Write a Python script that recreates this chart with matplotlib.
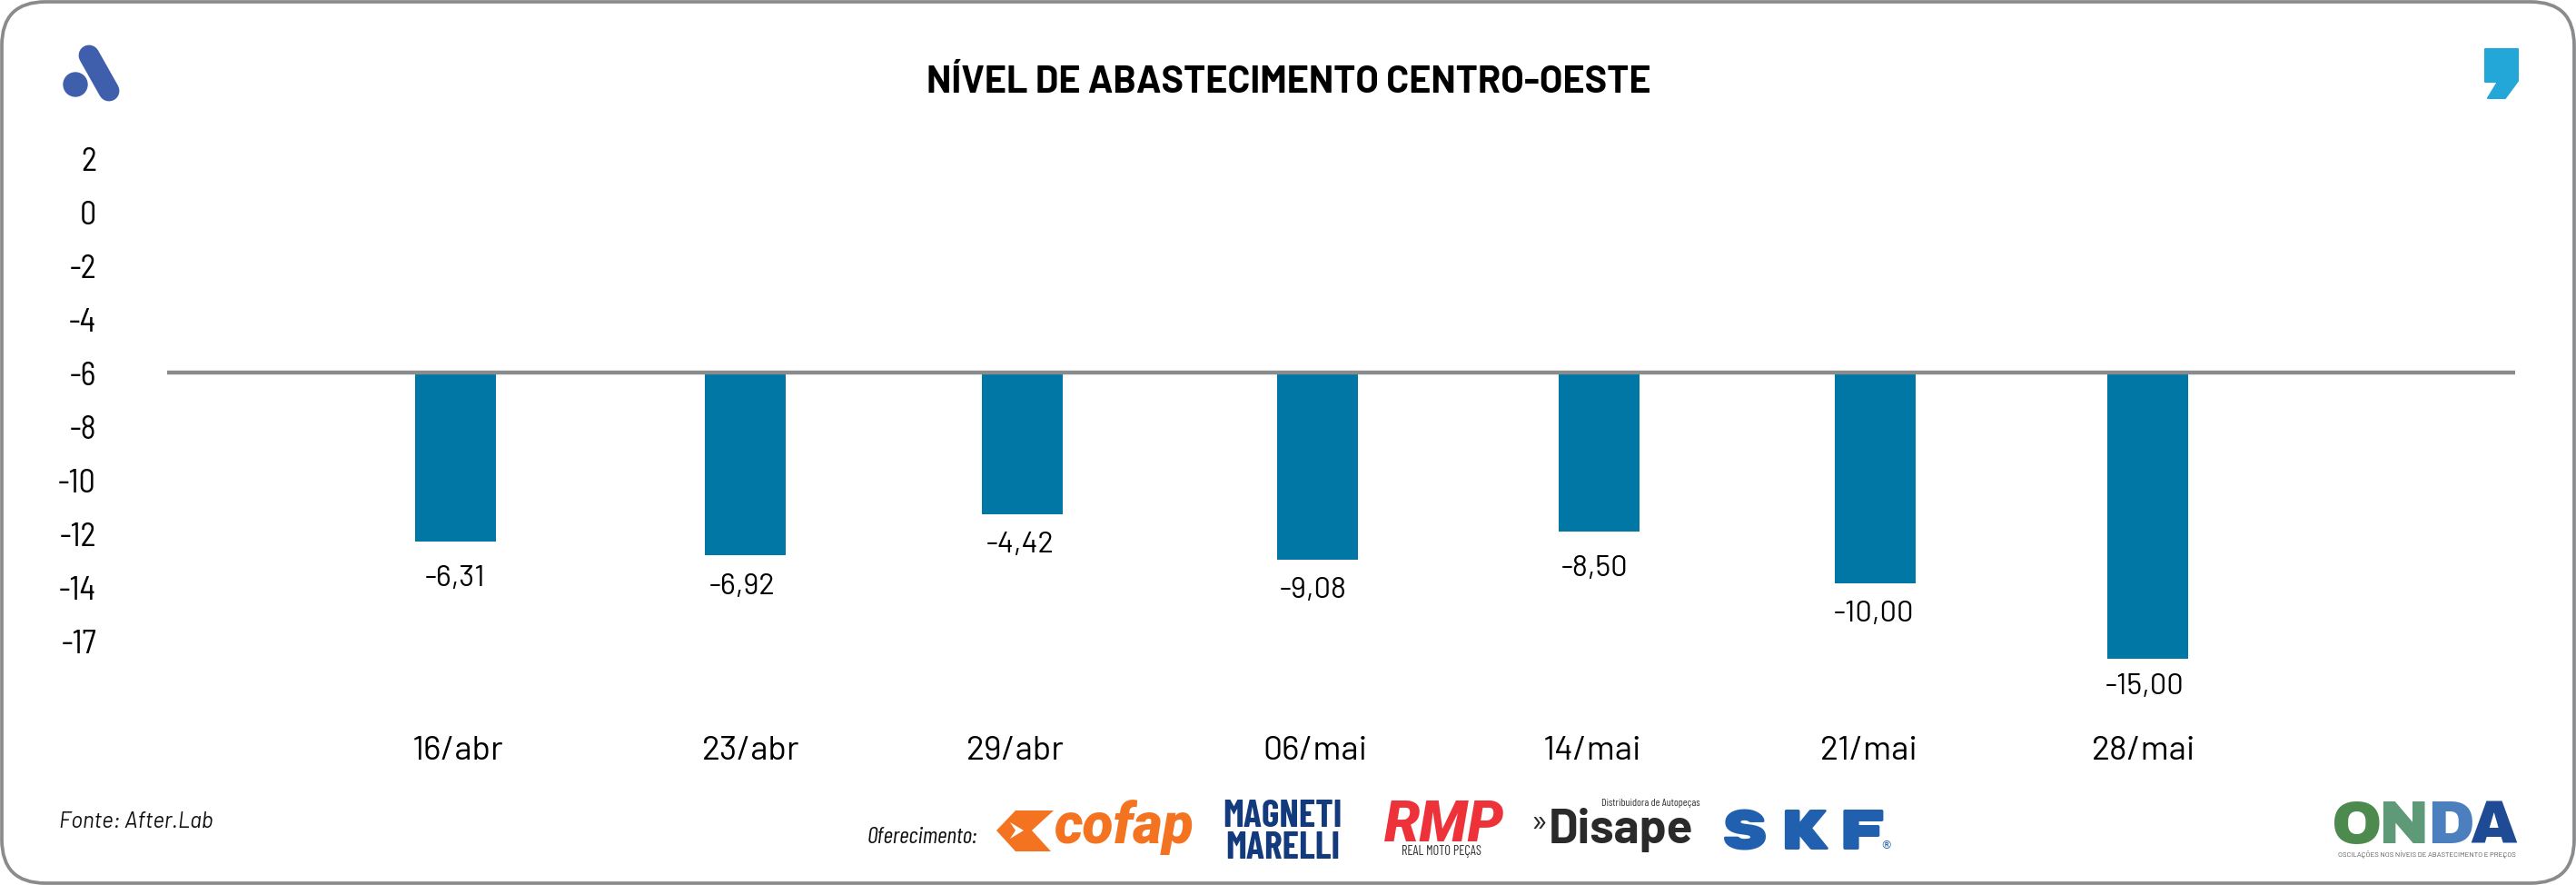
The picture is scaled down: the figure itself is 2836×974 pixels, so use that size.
import matplotlib
matplotlib.use("Agg")
import matplotlib.pyplot as plt
from matplotlib.patches import FancyBboxPatch, Polygon, Circle
from matplotlib.lines import Line2D

# =========================================================
# DATA
# =========================================================

dates = ["16/abr", "23/abr", "29/abr", "06/mai", "14/mai", "21/mai", "28/mai"]
value_labels = ["-6,31", "-6,92", "-4,42", "-9,08", "-8,50", "-10,00", "-15,00"]

# the bars don't follow their labels, so these are the ends as read on the axis
bar_ends = [-12.27, -12.77, -11.25, -12.95, -11.90, -13.84, -16.64]
bar_x = [501, 820.7, 1125, 1450.5, 1760.5, 2064.5, 2364.5]
baseline = -5.95

y_ticks = [2, 0, -2, -4, -6, -8, -10, -12, -14, -16]
y_tick_labels = ["2", "0", "-2", "-4", "-6", "-8", "-10", "-12", "-14", "-17"]

# layout: label nudges in pixels, the originals are placed by hand
value_dx = [0, -4, -2, -5, -5, -2, -3]
value_dy = [49, 43, 42, 42, 49, 42, 39]
date_dx = [3, 6, -7, -3, -7, -7, -4]

# =========================================================
# STYLE
# =========================================================

W, H = 2836, 974
BAR_COLOR = "#0077A5"
LINE_COLOR = "#8A8B8D"
TEXT_FONT = ["Barlow", "Roboto", "DejaVu Sans"]
TICK_FONT = ["Barlow Semi Condensed", "Barlow", "Roboto", "DejaVu Sans"]
HEAVY_FONT = ["Archivo Black", "Roboto", "DejaVu Sans"]
NARROW_FONT = ["Barlow Condensed", "Barlow", "Roboto", "DejaVu Sans"]
WIDE_FONT = ["Rubik Mono One", "Archivo Black", "Roboto", "DejaVu Sans"]

plt.rcParams["font.family"] = TEXT_FONT

fig = plt.figure(figsize=(W / 100, H / 100), dpi=100)

# overlay in pixel coordinates, y going down
bg = fig.add_axes([0, 0, 1, 1])
bg.set_xlim(0, W)
bg.set_ylim(H, 0)
bg.axis("off")

bg.add_patch(FancyBboxPatch((2, 2), W - 4, H - 4, boxstyle="round,pad=0,rounding_size=48",
                            fc="white", ec=LINE_COLOR, lw=2.7))

# =========================================================
# CHART
# =========================================================

# 29.5 px per unit, tick 2 sits at y=175
PX_PER_UNIT = 29.5
ax = fig.add_axes([0, 0, 1, 1], facecolor="none")
ax.set_xlim(0, W)
ax.set_ylim(2 - (H - 175) / PX_PER_UNIT, 2 + 175 / PX_PER_UNIT)

ax.bar(bar_x, [e - baseline for e in bar_ends], bottom=baseline, width=89, color=BAR_COLOR, zorder=2)
ax.plot([184, 2769], [baseline, baseline], color=LINE_COLOR, lw=3.2, zorder=3, solid_capstyle="butt")

for x, end, lab, dx, dy in zip(bar_x, bar_ends, value_labels, value_dx, value_dy):
    ax.annotate(lab, (x, end), xytext=(dx, -dy), textcoords="offset pixels",
                ha="center", va="baseline", fontsize=23.5, color="black")

for x, d, dx in zip(bar_x, dates, date_dx):
    ax.annotate(d, (x, 0), xycoords=("data", "axes fraction"), xytext=(dx, H - 836),
                textcoords="offset pixels", ha="center", va="baseline", fontsize=27, color="black")

for s in ax.spines.values():
    s.set_visible(False)
ax.set_xticks([])
ax.set_yticks(y_ticks)
ax.set_yticklabels(y_tick_labels, fontsize=26, color="black", family=TICK_FONT)
ax.tick_params(axis="y", length=0, pad=0)
for t in ax.get_yticklabels():
    t.set_x(106 / W)
    t.set_ha("right")

# =========================================================
# TITLE AND FOOTER
# =========================================================

bg.text(1418.7, 102, "NÍVEL DE ABASTECIMENTO CENTRO-OESTE", family=TEXT_FONT, fontweight="bold",
        fontsize=29.7, ha="center", va="baseline", color="black")
bg.text(65, 911, "Fonte: After.Lab", fontsize=17.4, style="italic", va="baseline", color="#111111")
bg.text(955, 928, "Oferecimento:", family=NARROW_FONT, fontsize=18.7, style="italic",
        va="baseline", color="#111111")

# =========================================================
# LOGOS
# =========================================================

blue = "#3F5EAC"
bg.add_line(Line2D([98, 120], [61, 100], color=blue, lw=16.5, solid_capstyle="round"))
bg.add_patch(Circle((83, 93), 13, color=blue))

bg.add_patch(Polygon([[2736, 54], [2772, 54], [2772, 89], [2758, 108], [2739, 108], [2750, 90], [2736, 90]],
                     closed=True, fc="#22A7D8", ec="#22A7D8", lw=1.5, joinstyle="round"))

orange = "#F47321"
bg.add_patch(Polygon([[1097, 914], [1118, 892], [1160, 892], [1136, 914], [1157, 937], [1118, 937]],
                     closed=True, fc=orange, ec="none"))
bg.add_patch(Polygon([[1112, 905], [1127, 914], [1112, 923], [1118, 914]], closed=True, fc="white", ec="none"))
bg.text(1160, 928, "cofap", family="Roboto", fontweight="black", style="italic", fontsize=45,
        color=orange, va="baseline")

navy = "#123A7C"
bg.text(1412, 910, "MAGNETI", family=NARROW_FONT, fontweight="bold", fontsize=30, color=navy,
        ha="center", va="baseline")
bg.text(1412, 945, "MARELLI", family=NARROW_FONT, fontweight="bold", fontsize=30, color=navy,
        ha="center", va="baseline")

bg.text(1590, 926, "RMP", family="Roboto", fontweight="black", style="italic", fontsize=45,
        color="#EE3239", ha="center", va="baseline")
bg.text(1587, 941, "REAL MOTO PEÇAS", family=NARROW_FONT, fontsize=10.5, color="#333333",
        ha="center", va="baseline")

bg.text(1684, 916, "»", fontsize=26, color="#2A2A2A", va="baseline", ha="left")
bg.text(1705, 928, "Disape", fontweight="bold", fontsize=38, color="#2A2A2A", va="baseline")
bg.text(1763, 887, "Distribuidora de Autopeças", family=NARROW_FONT, fontsize=8.5, color="#333333",
        va="baseline")

# wider than a normal bold, so the letters get their own slots
for x, ch in zip([1921, 1985, 2050], "SKF"):
    bg.text(x, 935, ch, family=WIDE_FONT, fontsize=46, color="#2160AE", ha="center", va="baseline")
bg.text(2076, 934, "®", family="DejaVu Sans", fontsize=9, color="#2160AE", ha="center", va="baseline")

# ONDA letters run from green to night blue in the original picture
for x, ch, col in zip([2595, 2646, 2698, 2745], "ONDA", ["#4D8A4E", "#5E9A78", "#4B7FBE", "#1F4A94"]):
    bg.text(x, 928, ch, family=HEAVY_FONT, fontsize=48, color=col, ha="center", va="baseline")
bg.text(2672, 943, "OSCILAÇÕES NOS NÍVEIS DE ABASTECIMENTO E PREÇOS", fontsize=5.7,
        color="#555555", ha="center", va="baseline")

plt.savefig("out.png", dpi=100)
plt.close()
